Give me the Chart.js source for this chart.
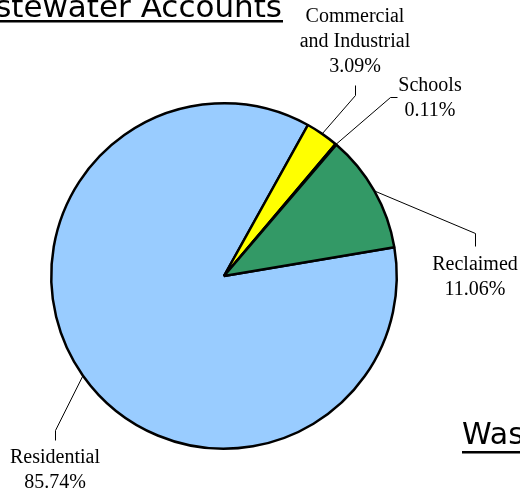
<!DOCTYPE html>
<html>
<head>
<meta charset="utf-8">
<script src="https://cdn.jsdelivr.net/npm/chart.js@4/dist/chart.umd.min.js"></script>
<style>
  html, body { margin: 0; padding: 0; background: #fff; overflow: hidden; }
  #wrap { position: relative; width: 520px; height: 496px; }
</style>
</head>
<body>
<div id="wrap"><canvas id="pie" width="520" height="496"></canvas></div>
<script>
const categories = ["Residential", "Commercial and Industrial", "Schools", "Reclaimed"];
const nameLines = [["Residential"], ["Commercial", "and Industrial"], ["Schools"], ["Reclaimed"]];
const shares = [85.74, 3.09, 0.11, 11.06];
const sliceColors = ["#99ccff", "#ffff00", "#cc99ff", "#339966"];

// where each callout sits: text centre/baseline, elbow and end of the leader line
const callouts = [
  { tx: 55, ty: 463, elbow: [55, 430], end: [55, 440] },
  { tx: 355, ty: 22, elbow: [355, 95], end: [355, 85] },
  { tx: 430, ty: 91, elbow: [390, 97], end: [397, 97] },
  { tx: 475, ty: 270, elbow: [475, 233], end: [475, 246] },
];

const calloutPlugin = {
  id: "callouts",
  afterDraw(chart) {
    const ctx = chart.ctx;
    const arcs = chart.getDatasetMeta(0).data;
    ctx.save();

    // leader lines
    ctx.strokeStyle = "#000";
    ctx.lineWidth = 1;
    arcs.forEach((arc, i) => {
      const p = arc.getProps(["x", "y", "startAngle", "endAngle", "outerRadius"], true);
      const mid = (p.startAngle + p.endAngle) / 2;
      const c = callouts[i];
      ctx.beginPath();
      ctx.moveTo(p.x + Math.cos(mid) * p.outerRadius, p.y + Math.sin(mid) * p.outerRadius);
      ctx.lineTo(c.elbow[0] + 0.5, c.elbow[1] + 0.5);
      ctx.lineTo(c.end[0] + 0.5, c.end[1] + 0.5);
      ctx.stroke();
    });

    // callout text
    ctx.fillStyle = "#000";
    ctx.font = "20px 'Liberation Serif', 'Times New Roman', serif";
    ctx.textAlign = "center";
    ctx.textBaseline = "alphabetic";
    categories.forEach((name, i) => {
      const c = callouts[i];
      const lines = nameLines[i].concat([`${shares[i].toFixed(2)}%`]);
      lines.forEach((line, k) => ctx.fillText(line, c.tx, c.ty + k * 25));
    });

    // clipped titles of the slide
    ctx.font = "31px 'DejaVu Sans', Verdana, sans-serif";
    ctx.textAlign = "right";
    ctx.fillText("stewater Accounts", 282, 17);
    ctx.fillRect(0, 20, 283, 2.5);
    ctx.font = "30px 'DejaVu Sans', Verdana, sans-serif";
    ctx.textAlign = "left";
    ctx.fillText("Was", 462, 444);
    ctx.fillRect(462, 451, 58, 2.5);

    ctx.restore();
  },
};

new Chart(document.getElementById("pie"), {
  type: "pie",
  data: {
    labels: categories,
    datasets: [{
      data: shares,
      backgroundColor: sliceColors,
      borderColor: "#000",
      borderWidth: 2.5,
    }],
  },
  options: {
    responsive: false,
    animation: false,
    devicePixelRatio: 1,
    rotation: 80.4,
    layout: { padding: { left: 50, right: 122, top: 102, bottom: 46 } },
    plugins: {
      legend: { display: false },
      tooltip: { enabled: false },
    },
  },
  plugins: [calloutPlugin],
});
</script>
</body>
</html>
